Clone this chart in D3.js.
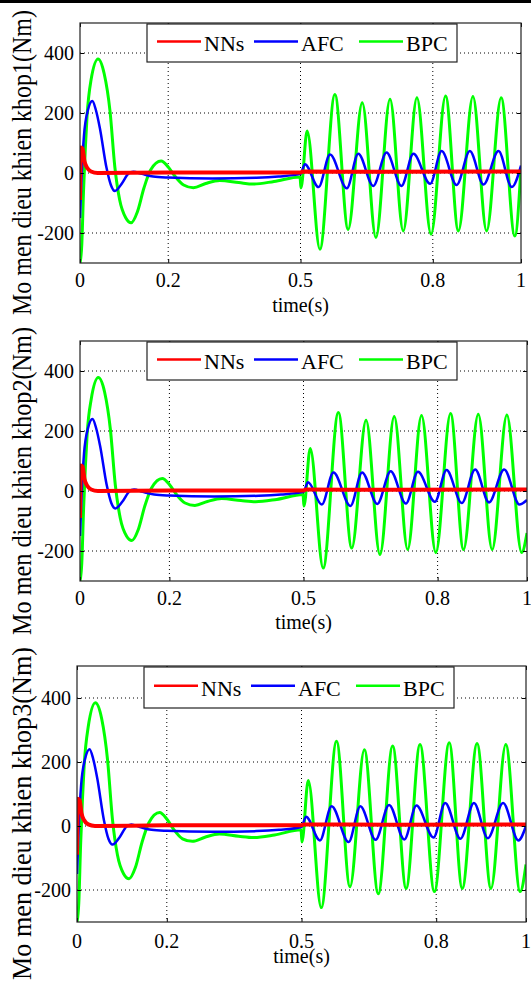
<!DOCTYPE html>
<html>
<head>
<meta charset="utf-8">
<script src="https://cdn.jsdelivr.net/npm/d3@7"></script>
<style>
  body { margin: 0; background: #fff; }
  svg { display: block; }
  text { font-family: "Liberation Serif", "Times New Roman", serif; fill: #000; }
</style>
</head>
<body>
<div id="chart"></div>
<script>
// tick values and legend names
const xTicks = [0, 0.2, 0.5, 0.8, 1];
const yTicks = [-200, 0, 200, 400];
const seriesNames = ["NNs", "AFC", "BPC"];
const seriesColors = ["#ff0000", "#0000ff", "#00ff00"];
const yLabels = ["Mo men dieu khien khop1(Nm)", "Mo men dieu khien khop2(Nm)", "Mo men dieu khien khop3(Nm)"];

// joint 1  [time, torque]
const nns1 = [[0,-90],[0.002,85],[0.006,80],[0.01,40],[0.016,18],[0.025,5],[0.04,0],[0.2,2],[0.5,2],[0.505,5],[0.7,4],[1,5]];
const afc1 = [[0,-150],[0.004,0],[0.009,125],[0.018,210],[0.028,240],[0.036,210],[0.045,150],[0.06,18],[0.07,-40],[0.079,-60],[0.095,-35],[0.11,-2],[0.121,4],[0.14,-3],[0.166,-12],[0.2,-15],[0.3,-18],[0.4,-16],[0.45,-12],[0.5,-3],
  [0.51,29],[0.541,-47],[0.567,62],[0.605,-51],[0.631,64],[0.665,-43],[0.695,68],[0.729,-43],[0.756,64],[0.794,-36],[0.82,73],[0.854,-40],[0.884,73],[0.915,-38],[0.949,73],[0.979,-47],[1,25]];
const bpc1 = [[0,-300],[0.004,-240],[0.008,-60],[0.012,80],[0.016,190],[0.025,310],[0.041,380],[0.055,330],[0.068,207],[0.079,20],[0.09,-90],[0.104,-150],[0.116,-166],[0.13,-130],[0.145,-50],[0.16,10],[0.184,40],[0.2,20],[0.215,-10],[0.235,-40],[0.257,-49],[0.285,-35],[0.317,-25],[0.36,-32],[0.393,-37],[0.44,-28],[0.499,-13],[0.501,-50],
  [0.515,140],[0.544,-254],[0.578,262],[0.608,-188],[0.64,234],[0.671,-215],[0.703,246],[0.733,-193],[0.764,251],[0.796,-204],[0.829,257],[0.858,-193],[0.891,255],[0.922,-193],[0.955,251],[0.986,-210],[1,18]];

// joint 2
const nns2 = [[0,-90],[0.002,85],[0.006,80],[0.01,40],[0.016,18],[0.025,5],[0.04,0],[0.2,2],[0.5,2],[0.505,5],[0.7,4],[1,5]];
const afc2 = [[0,-150],[0.004,0],[0.009,125],[0.018,210],[0.028,240],[0.036,210],[0.045,150],[0.06,18],[0.07,-40],[0.079,-58],[0.095,-35],[0.11,-2],[0.121,5],[0.14,-3],[0.166,-12],[0.2,-15],[0.3,-18],[0.4,-16],[0.45,-12],[0.5,-3],
  [0.51,29],[0.541,-45],[0.567,62],[0.605,-50],[0.631,62],[0.665,-43],[0.695,66],[0.729,-42],[0.756,64],[0.794,-36],[0.82,70],[0.854,-40],[0.884,72],[0.915,-38],[0.949,72],[0.983,-45],[1,-30]];
const bpc2 = [[0,-300],[0.004,-240],[0.008,-60],[0.012,80],[0.016,190],[0.025,305],[0.041,378],[0.055,330],[0.068,205],[0.079,20],[0.09,-90],[0.104,-150],[0.116,-165],[0.13,-130],[0.145,-50],[0.16,10],[0.184,42],[0.2,22],[0.215,-10],[0.235,-40],[0.257,-48],[0.285,-35],[0.317,-25],[0.36,-32],[0.393,-36],[0.44,-28],[0.499,-12],[0.501,-50],
  [0.515,142],[0.544,-257],[0.578,262],[0.608,-190],[0.64,236],[0.671,-212],[0.703,248],[0.733,-195],[0.764,252],[0.796,-205],[0.829,258],[0.858,-195],[0.891,256],[0.922,-195],[0.955,253],[0.988,-205],[1,-140]];

// joint 3
const nns3 = [[0,-90],[0.002,85],[0.006,80],[0.01,40],[0.016,18],[0.025,5],[0.04,0],[0.2,2],[0.5,2],[0.505,5],[0.7,4],[1,5]];
const afc3 = [[0,-150],[0.004,0],[0.009,125],[0.018,210],[0.028,240],[0.036,210],[0.045,150],[0.06,18],[0.07,-40],[0.079,-58],[0.095,-35],[0.11,-2],[0.121,5],[0.14,-3],[0.166,-12],[0.2,-15],[0.3,-18],[0.4,-16],[0.45,-12],[0.5,-3],
  [0.51,29],[0.541,-45],[0.567,62],[0.605,-50],[0.631,62],[0.665,-43],[0.695,66],[0.729,-42],[0.756,64],[0.794,-36],[0.82,72],[0.854,-40],[0.884,72],[0.915,-38],[0.949,72],[0.983,-45],[1,0]];
const bpc3 = [[0,-300],[0.004,-240],[0.008,-60],[0.012,80],[0.016,190],[0.025,310],[0.041,385],[0.055,335],[0.068,207],[0.079,20],[0.09,-90],[0.104,-150],[0.116,-165],[0.13,-130],[0.145,-50],[0.16,10],[0.184,42],[0.2,22],[0.215,-10],[0.235,-40],[0.257,-48],[0.285,-35],[0.317,-25],[0.36,-32],[0.393,-36],[0.44,-28],[0.499,-12],[0.501,-50],
  [0.515,142],[0.544,-255],[0.578,265],[0.608,-190],[0.64,238],[0.671,-212],[0.703,250],[0.733,-195],[0.764,255],[0.796,-205],[0.829,260],[0.858,-195],[0.891,258],[0.922,-195],[0.955,255],[0.987,-205],[1,-120]];

const W = 531, H = 989;

// panel boxes (pixel layout)
const panels = [
  { x0: 80, x1: 521, y0: 23, y1: 263, lab0: 10, lab1: 315, tickDy: 24, titleDy: 49, legH: 38, series: [nns1, afc1, bpc1] },
  { x0: 80, x1: 527, y0: 341, y1: 581, lab0: 327, lab1: 635, tickDy: 24, titleDy: 48, legH: 38, series: [nns2, afc2, bpc2] },
  { x0: 77, x1: 526, y0: 666, y1: 922, lab0: 647, lab1: 980, tickDy: 26, titleDy: 41, legH: 41, series: [nns3, afc3, bpc3] }
];

const svg = d3.select("#chart").append("svg")
  .attr("width", W)
  .attr("height", H);

// black rule at the very top
svg.append("rect").attr("x", 0).attr("y", 0).attr("width", W).attr("height", 3).attr("fill", "#000");

const lineWidths = [4, 2.5, 3];

panels.forEach((p, pi) => {
  const x = d3.scaleLinear().domain([0, 1]).range([p.x0, p.x1]);
  const y = d3.scaleLinear().domain([-300, 500]).range([p.y1, p.y0]);
  const g = svg.append("g");

  g.append("clipPath").attr("id", "clip" + pi)
    .append("rect")
    .attr("x", p.x0).attr("y", p.y0)
    .attr("width", p.x1 - p.x0).attr("height", p.y1 - p.y0);

  // dotted grid
  g.selectAll(".gx").data(xTicks.filter(d => d > 0 && d < 1)).join("line")
    .attr("x1", d => x(d)).attr("x2", d => x(d))
    .attr("y1", p.y0).attr("y2", p.y1)
    .attr("stroke", "#000").attr("stroke-width", 1).attr("stroke-dasharray", "1,3");
  g.selectAll(".gy").data(yTicks).join("line")
    .attr("x1", p.x0).attr("x2", p.x1)
    .attr("y1", d => y(d)).attr("y2", d => y(d))
    .attr("stroke", "#000").attr("stroke-width", 1).attr("stroke-dasharray", "1,3");

  // curves
  const line = d3.line().x(d => x(d[0])).y(d => y(d[1])).curve(d3.curveMonotoneX);
  const order = [2, 1, 0]; // BPC below, NNs on top
  order.forEach(si => {
    g.append("path")
      .datum(p.series[si])
      .attr("clip-path", `url(#clip${pi})`)
      .attr("d", line)
      .attr("fill", "none")
      .attr("stroke", seriesColors[si])
      .attr("stroke-width", lineWidths[si])
      .attr("stroke-linejoin", "round");
  });

  // axes (ticks inward, on all sides)
  const tk = 4;
  g.append("g").attr("transform", `translate(0,${p.y1})`)
    .call(d3.axisBottom(x).tickValues(xTicks).tickSize(-tk).tickFormat(""));
  g.append("g").attr("transform", `translate(0,${p.y0})`)
    .call(d3.axisTop(x).tickValues(xTicks).tickSize(-tk).tickFormat(""));
  g.append("g").attr("transform", `translate(${p.x0},0)`)
    .call(d3.axisLeft(y).tickValues(yTicks).tickSize(-tk).tickFormat(""));
  g.append("g").attr("transform", `translate(${p.x1},0)`)
    .call(d3.axisRight(y).tickValues(yTicks).tickSize(-tk).tickFormat(""));
  g.selectAll(".domain").remove();
  g.selectAll(".tick line").attr("stroke", "#000");

  g.append("rect")
    .attr("x", p.x0).attr("y", p.y0)
    .attr("width", p.x1 - p.x0).attr("height", p.y1 - p.y0)
    .attr("fill", "none").attr("stroke", "#222").attr("stroke-width", 1.2);

  // tick labels
  g.selectAll(".xl").data(xTicks).join("text")
    .attr("x", d => x(d)).attr("y", p.y1 + p.tickDy)
    .attr("text-anchor", "middle").attr("font-size", 20)
    .text(d => d);
  g.selectAll(".yl").data(yTicks).join("text")
    .attr("x", p.x0 - 6).attr("y", d => y(d)).attr("dy", "0.35em")
    .attr("text-anchor", "end").attr("font-size", 20)
    .text(d => d);

  g.append("text")
    .attr("x", (p.x0 + p.x1) / 2).attr("y", p.y1 + p.titleDy)
    .attr("text-anchor", "middle").attr("font-size", 20)
    .text("time(s)");

  g.append("text")
    .attr("transform", `translate(31,${(p.lab0 + p.lab1) / 2}) rotate(-90)`)
    .attr("text-anchor", "middle").attr("font-size", 28)
    .attr("textLength", p.lab1 - p.lab0).attr("lengthAdjust", "spacingAndGlyphs")
    .text(yLabels[pi]);

  // legend
  const lx = p.x0 + 67, ly = p.y0 + 1;
  const lg = g.append("g").attr("transform", `translate(${lx},${ly})`);
  lg.append("rect").attr("width", 310).attr("height", p.legH)
    .attr("fill", "#fff").attr("stroke", "#222").attr("stroke-width", 1.2);
  const entryX = [10, 107, 212];
  seriesNames.forEach((name, i) => {
    lg.append("line")
      .attr("x1", entryX[i]).attr("x2", entryX[i] + 44)
      .attr("y1", p.legH * 0.46).attr("y2", p.legH * 0.46)
      .attr("stroke", seriesColors[i]).attr("stroke-width", 2.5);
    lg.append("text")
      .attr("x", entryX[i] + 47).attr("y", p.legH * 0.71)
      .attr("font-size", 22)
      .text(name);
  });
});
</script>
</body>
</html>
